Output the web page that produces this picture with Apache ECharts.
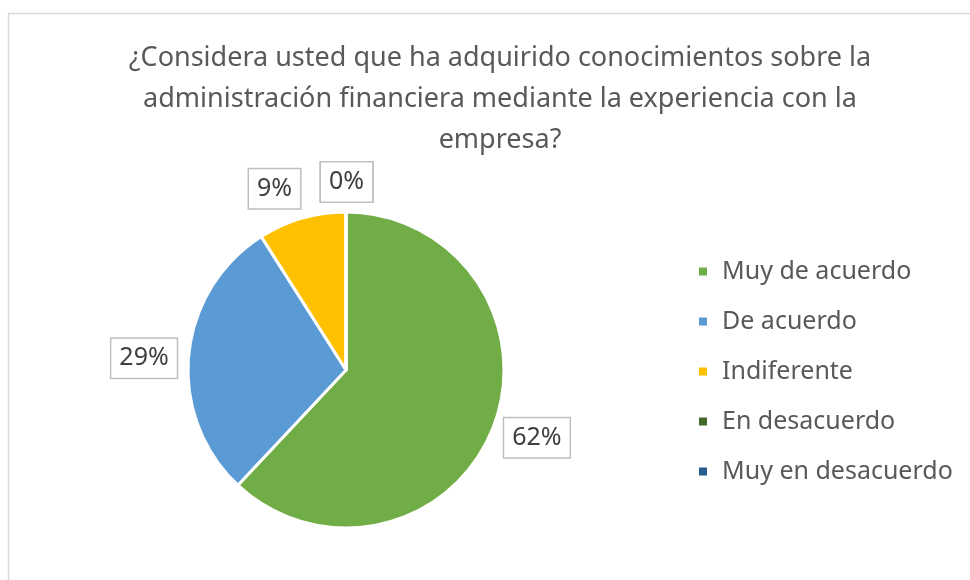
<!DOCTYPE html>
<html><head><meta charset="utf-8">
<script src="https://cdn.jsdelivr.net/npm/echarts@6/dist/echarts.min.js"></script>
<style>html,body{margin:0;padding:0;background:#fff}#c{width:970px;height:580px}</style>
</head><body><div id="c"></div>
<script>
const titleText = "¿Considera usted que ha adquirido conocimientos sobre la\nadministración financiera mediante la experiencia con la\nempresa?";
const categories = ["Muy de acuerdo", "De acuerdo", "Indiferente", "En desacuerdo", "Muy en desacuerdo"];
const values = [62, 29, 9, 0, 0];
const colors = ["#70AD47", "#5B9BD5", "#FFC000", "#43682B", "#255E91"];
const FONT = "Noto Sans";
// label nudges (style only)
const labelShift = [[-3, 6], [3, 4], [6, -20], [-30, -20], [-30, -20]];

const chart = echarts.init(document.getElementById('c'), null, {renderer: 'canvas'});
chart.setOption({
  animation: false,
  backgroundColor: '#fff',
  color: colors,
  graphic: [{type: 'rect', shape: {x: 8.5, y: 13.5, width: 1000, height: 600}, style: {fill: 'none', stroke: '#d9d9d9', lineWidth: 1.5}, silent: true, z: -10}],
  title: {
    text: titleText, left: 495, top: 33, textAlign: 'center',
    textStyle: {fontFamily: FONT, fontSize: 27, fontWeight: 'normal', color: '#595959', lineHeight: 41}
  },
  legend: {
    orient: 'vertical', left: 692, top: 254, itemWidth: 10, itemHeight: 10, itemGap: 25,
    icon: 'rect', data: categories,
    textStyle: {fontFamily: FONT, fontSize: 25, color: '#595959', padding: [0, 0, 0, 9]}
  },
  series: [{
    type: 'pie', center: [346, 370], radius: 158, startAngle: 90, clockwise: true,
    avoidLabelOverlap: false,
    itemStyle: {borderColor: '#fff', borderWidth: 3},
    label: {
      show: true, position: 'outside', formatter: '{d}%',
      fontFamily: FONT, fontSize: 25, color: '#404040',
      backgroundColor: '#fff', borderColor: '#bfbfbf', borderWidth: 1.5,
      padding: [8, 8, 6, 8]
    },
    labelLine: {show: false, length: 10, length2: 0},
    labelLayout: function (p) { const s = labelShift[p.dataIndex]; return {dx: s[0], dy: s[1]}; },
    data: categories.map((c, i) => ({name: c, value: values[i]}))
  }]
});
</script></body></html>
